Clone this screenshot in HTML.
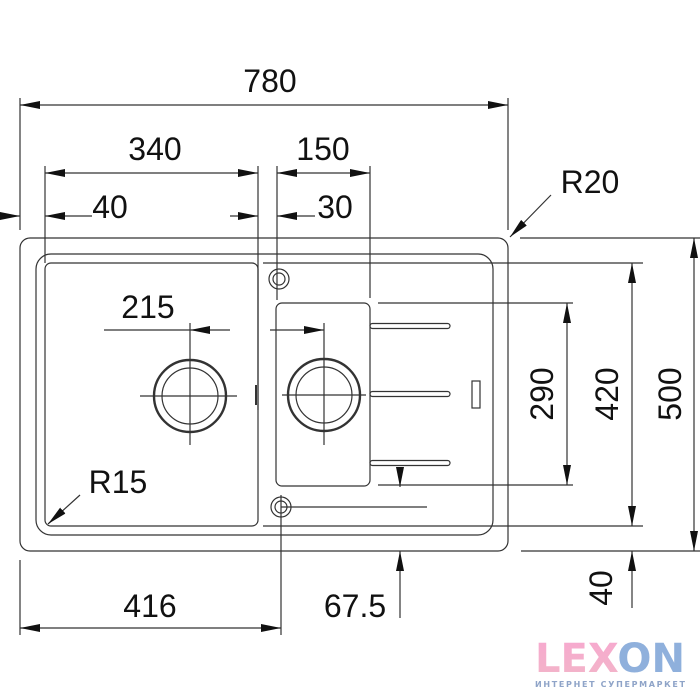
<!DOCTYPE html>
<html><head><meta charset="utf-8"><style>body{margin:0;background:#fff}svg{display:block}</style></head><body>
<svg width="700" height="700" viewBox="0 0 700 700" xmlns="http://www.w3.org/2000/svg" font-family="Liberation Sans, sans-serif">
<defs>
<marker id="a" viewBox="0 0 20 8" refX="20" refY="4" markerWidth="20" markerHeight="8" markerUnits="userSpaceOnUse" orient="auto-start-reverse"><path d="M0,0 L20,4 L0,8 Z" fill="#111"/></marker>
<linearGradient id="pg" x1="0" y1="0" x2="0" y2="1"><stop offset="0" stop-color="#f7a8cf"/><stop offset="1" stop-color="#f2b6c8"/></linearGradient>
</defs>
<g stroke="#333" stroke-width="1.2" fill="none">
<line x1="20" y1="98" x2="20" y2="230"/><line x1="508" y1="98" x2="508" y2="230"/>
<line x1="45" y1="166" x2="45" y2="263"/><line x1="258" y1="166" x2="258" y2="410"/>
<line x1="277" y1="166" x2="277" y2="300"/><line x1="370" y1="166" x2="370" y2="298"/>
<line x1="20" y1="560" x2="20" y2="635"/><line x1="281" y1="495" x2="281" y2="635"/>
<line x1="263" y1="263" x2="643" y2="263"/><line x1="263" y1="526" x2="643" y2="526"/>
<line x1="378" y1="303" x2="573" y2="303"/><line x1="378" y1="485" x2="573" y2="485"/>
<line x1="520" y1="238" x2="700" y2="238"/><line x1="521" y1="551" x2="700" y2="551"/>
<line x1="281" y1="507" x2="427" y2="507"/>
<line x1="20" y1="105" x2="508" y2="105" marker-start="url(#a)" marker-end="url(#a)"/>
<line x1="45" y1="173" x2="258" y2="173" marker-start="url(#a)" marker-end="url(#a)"/>
<line x1="277" y1="173" x2="370" y2="173" marker-start="url(#a)" marker-end="url(#a)"/>
<line x1="0" y1="216" x2="20" y2="216" marker-end="url(#a)"/>
<line x1="92" y1="216" x2="45" y2="216" marker-end="url(#a)"/>
<line x1="230" y1="216" x2="258" y2="216" marker-end="url(#a)"/>
<line x1="315" y1="216" x2="277" y2="216" marker-end="url(#a)"/>
<line x1="104" y1="330" x2="190" y2="330"/>
<line x1="230" y1="330" x2="190" y2="330" marker-end="url(#a)"/>
<line x1="270" y1="330" x2="324" y2="330" marker-end="url(#a)"/>
<line x1="20" y1="628" x2="281" y2="628" marker-start="url(#a)" marker-end="url(#a)"/>
<line x1="400" y1="470" x2="400" y2="487" marker-end="url(#a)"/>
<line x1="400" y1="618" x2="400" y2="551" marker-end="url(#a)"/>
<line x1="567" y1="303" x2="567" y2="485" marker-start="url(#a)" marker-end="url(#a)"/>
<line x1="632" y1="263" x2="632" y2="526" marker-start="url(#a)" marker-end="url(#a)"/>
<line x1="694" y1="238" x2="694" y2="551" marker-start="url(#a)" marker-end="url(#a)"/>
<line x1="632" y1="608" x2="632" y2="551" marker-end="url(#a)"/>
<line x1="551" y1="195" x2="510" y2="237" marker-end="url(#a)"/>
<line x1="80" y1="495" x2="48" y2="524" marker-end="url(#a)"/>
<rect x="20" y="238" width="488" height="313" rx="10"/>
<rect x="36" y="254" width="457" height="281" rx="15"/>
<rect x="45" y="263" width="213" height="263" rx="6"/>
<rect x="276" y="303" width="94" height="183" rx="6"/>
<rect x="370" y="323.5" width="80" height="5" rx="2.5"/>
<rect x="370" y="391.5" width="80" height="5" rx="2.5"/>
<rect x="370" y="460.5" width="80" height="5" rx="2.5"/>
<rect x="472" y="381" width="8" height="27"/>
<line x1="256" y1="385" x2="256" y2="405" stroke-width="2"/>
<circle cx="279" cy="279" r="10"/><circle cx="279" cy="279" r="6"/>
<circle cx="281" cy="507" r="10"/><circle cx="281" cy="507" r="6"/>
<circle cx="190" cy="396" r="36" stroke-width="2.4"/><circle cx="190" cy="396" r="28"/>
<circle cx="324" cy="395" r="36" stroke-width="2.4"/><circle cx="324" cy="395" r="28"/>
<line x1="140" y1="396" x2="237" y2="396"/><line x1="190" y1="323" x2="190" y2="445"/>
<line x1="282" y1="395" x2="366" y2="395"/><line x1="324" y1="323" x2="324" y2="445"/>
</g>
<g fill="#111" font-size="32">
<text x="270" y="92" text-anchor="middle">780</text>
<text x="155" y="160" text-anchor="middle">340</text>
<text x="323" y="160" text-anchor="middle">150</text>
<text x="110" y="218" text-anchor="middle">40</text>
<text x="335" y="218" text-anchor="middle">30</text>
<text x="590" y="193" text-anchor="middle">R20</text>
<text x="148" y="318" text-anchor="middle">215</text>
<text x="118" y="493" text-anchor="middle">R15</text>
<text x="150" y="617" text-anchor="middle">416</text>
<text x="355" y="617" text-anchor="middle">67.5</text>
<text transform="translate(553,394) rotate(-90)" text-anchor="middle">290</text>
<text transform="translate(618,394) rotate(-90)" text-anchor="middle">420</text>
<text transform="translate(681,394) rotate(-90)" text-anchor="middle">500</text>
<text transform="translate(612,588) rotate(-90)" text-anchor="middle">40</text>
</g>
<text x="610" y="672" font-family="DejaVu Sans, sans-serif" font-size="40" font-weight="bold" fill="url(#pg)" text-anchor="middle" textLength="150" lengthAdjust="spacingAndGlyphs">LEX<tspan fill="#8fb0dc">ON</tspan></text>
<text x="610" y="687" font-family="DejaVu Sans, sans-serif" font-size="8" font-weight="bold" fill="#8fa4c8" text-anchor="middle" textLength="150" lengthAdjust="spacing">ИНТЕРНЕТ СУПЕРМАРКЕТ</text>
</svg>
</body></html>
